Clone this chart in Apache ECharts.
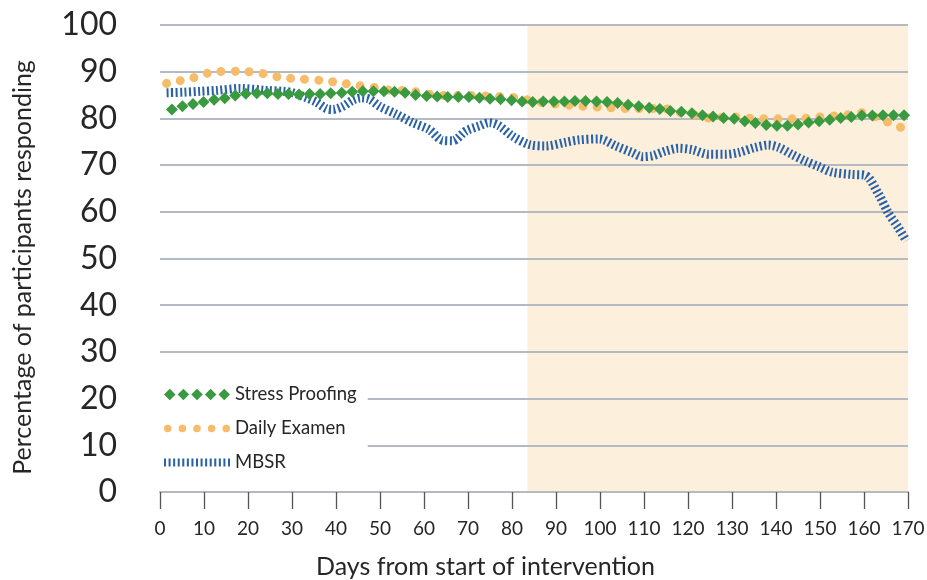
<!DOCTYPE html>
<html><head><meta charset="utf-8">
<script src="https://cdn.jsdelivr.net/npm/echarts@6/dist/echarts.min.js"></script>
<style>html,body{margin:0;padding:0;background:#fff}#c{width:927px;height:580px}</style>
</head><body><div id="c"></div>
<script>
// ---- data ----
const seriesNames = ['Stress Proofing', 'Daily Examen', 'MBSR'];

const stressDays = [2.7,5.1,7.5,9.9,12.3,14.7,17.1,19.5,22.0,24.4,26.8,29.2,31.6,34.0,36.4,38.8,41.3,43.7,46.1,48.5,50.9,53.3,55.7,58.1,60.6,63.0,65.4,67.8,70.2,72.6,75.0,77.4,79.9,82.3,84.7,87.1,89.5,91.9,94.3,96.7,99.2,101.6,104.0,106.4,108.8,111.2,113.6,116.0,118.5,120.9,123.3,125.7,128.1,130.5,132.9,135.3,137.8,140.2,142.6,145.0,147.4,149.8,152.2,154.7,157.1,159.5,161.9,164.3,166.7,169.1];
const stressValues = [81.9,82.6,83.1,83.5,84.0,84.3,84.9,85.3,85.4,85.4,
  85.2,85.2,85.1,85.2,85.2,85.4,85.5,85.7,85.8,85.8,
  85.8,85.7,85.5,85.0,84.8,84.7,84.6,84.6,84.6,84.4,
  84.2,84.1,83.9,83.6,83.5,83.6,83.6,83.6,83.7,83.7,
  83.6,83.5,83.3,82.9,82.6,82.3,82.0,81.6,81.4,81.1,
  80.7,80.4,80.1,79.9,79.4,79.0,78.6,78.4,78.4,78.7,
  79.1,79.4,79.7,80.1,80.3,80.6,80.6,80.7,80.7,80.7];

const examenDays = [1.5,4.1,7.0,9.2,13.0,18.1,23.4,27.4,32.4,37.0,41.0,44.7,48.8,52.5,56.7,60.5,64.2,69.2,74.1,80.9,86.8,93.4,99.8,107.3,114.5,117.9,121.7,125.5,129.3,133.0,136.8,140.6,144.4,147.8,151.2,154.2,157.6,160.2,163.3,166.9,169.6];
const examenValues = [87.5,88.0,88.5,89.3,90.0,90.1,89.6,88.8,88.4,88.1,87.6,87.1,86.6,86.0,85.9,85.3,84.9,84.9,84.8,84.4,83.4,82.8,82.4,82.1,82.1,81.3,80.7,80.0,80.4,80.1,79.9,79.9,79.9,80.1,80.4,80.6,80.9,81.3,79.9,78.7,77.5];

const mbsrDays = [1.5,5.3,9.1,12.9,18.1,24.2,28.0,30.2,33.3,35.5,37.8,39.3,41.6,43.8,45.7,47.6,49.9,53.7,57.4,61.2,64.2,66.5,69.5,72.6,74.8,77.1,80.1,83.9,87.7,92.2,95.2,99.8,103.6,107.3,109.6,111.9,114.9,117.9,120.9,124.7,128.5,131.5,135.3,138.3,140.6,143.6,146.6,149.7,152.7,157.2,160.3,163.3,165.5,167.8,169.6];
const mbsrValues = [85.5,85.6,85.8,86.0,86.4,86.0,85.8,85.5,84.4,83.5,82.1,81.9,82.6,83.9,84.4,84.1,82.6,80.9,79.1,77.6,75.3,75.2,77.3,78.4,79.1,78.4,76.2,74.4,74.1,74.9,75.4,75.6,74.1,72.7,71.8,72.0,73.0,73.6,73.3,72.3,72.3,72.7,73.8,74.3,73.8,72.3,70.9,69.7,68.5,68.0,67.8,63.8,59.8,56.6,53.8];

const shadeStart = 83.5, shadeEnd = 170;   // shaded period (days)
const xMin = 0, xMax = 170, xStep = 10;
const yMin = 0, yMax = 100, yStep = 10;

// ---- styles ----
const FONT = 'Lato';
const TXT = '#262626';
const GRIDC = '#b3bac2';
const GREEN = '#3a9a3f', ORANGE = '#f7bc69', BLUE = '#2a62a8';

// legend icons
function diamondsPath() {
  let p = '';
  for (let i = 0; i < 5; i++) {
    const cx = 5.5 + i * 13;
    p += `M${cx},0 L${cx + 5.5},5.5 L${cx},11 L${cx - 5.5},5.5 Z `;
  }
  return 'path://' + p;
}
function dotsPath() {
  let p = '';
  for (let i = 0; i < 5; i++) {
    const cx = 4 + i * 15.5;
    p += `M${cx - 4},4 a4,4 0 1,0 8,0 a4,4 0 1,0 -8,0 Z `;
  }
  return 'path://' + p;
}
function stripesPath() {
  let p = '';
  for (let i = 0; i < 15; i++) {
    const x = i * 4.5;
    p += `M${x},0 L${x + 2},0 L${x + 2},8 L${x},8 Z `;
  }
  return 'path://' + p;
}

const zip = (a, b) => a.map((v, i) => [v, b[i]]);

const chart = echarts.init(document.getElementById('c'), null, {renderer: 'canvas'});
chart.setOption({
  animation: false,
  backgroundColor: '#fff',
  textStyle: {fontFamily: FONT},
  grid: {left: 160, right: 19, top: 25, bottom: 88, containLabel: false, outerBoundsMode: 'none'},
  legend: {
    orient: 'vertical', left: 158, top: 371,
    padding: [14, 11, 10, 6],
    backgroundColor: '#fff',
    itemWidth: 66, itemHeight: 14, itemGap: 15,
    itemStyle: {borderWidth: 0},
    textStyle: {fontFamily: FONT, fontSize: 18.5, color: TXT, lineHeight: 19},
    data: [
      {name: seriesNames[0], icon: diamondsPath()},
      {name: seriesNames[1], icon: dotsPath()},
      {name: seriesNames[2], icon: stripesPath()}
    ]
  },
  xAxis: {
    type: 'value', min: xMin, max: xMax, interval: xStep, z: 1.5,
    name: 'Days from start of intervention', nameLocation: 'middle', nameGap: 62,
    nameTextStyle: {fontFamily: FONT, fontSize: 25, color: TXT, padding: [0, 97, 0, 0]},
    axisLine: {show: true, lineStyle: {color: GRIDC, width: 2}},
    axisTick: {show: true, length: 17, lineStyle: {color: '#555', width: 1.3}},
    axisLabel: {fontFamily: FONT, fontSize: 19, color: TXT, margin: 27},
    splitLine: {show: false}
  },
  yAxis: {
    type: 'value', min: yMin, max: yMax, interval: yStep, z: 1.5,
    name: 'Percentage of participants responding', nameLocation: 'middle', nameGap: 125,
    nameRotate: 90,
    nameTextStyle: {fontFamily: FONT, fontSize: 25, color: TXT, padding: [0, 18, 0, 0]},
    axisLine: {show: false}, axisTick: {show: false},
    axisLabel: {fontFamily: FONT, fontSize: 32, color: TXT, margin: 43},
    splitLine: {show: true, lineStyle: {color: GRIDC, width: 2}}
  },
  series: [
    {
      name: seriesNames[1], type: 'line', data: zip(examenDays, examenValues),
      smooth: 0.3, symbol: 'none', color: ORANGE, z: 2,
      lineStyle: {width: 9, color: ORANGE, type: [0.01, 14], cap: 'round'},
      markArea: {
        silent: true,
        itemStyle: {color: '#fcefdc'},
        data: [[{xAxis: shadeStart}, {xAxis: shadeEnd}]]
      }
    },
    {
      name: seriesNames[2], type: 'line', data: zip(mbsrDays, mbsrValues),
      smooth: 0.3, symbol: 'none', color: BLUE, z: 2,
      lineStyle: {width: 9, color: BLUE, type: [2, 2.5], cap: 'butt'}
    },
    {
      name: seriesNames[0], type: 'line', data: zip(stressDays, stressValues),
      symbol: 'diamond', symbolSize: 12, showSymbol: true, showAllSymbol: true,
      color: GREEN, z: 3,
      itemStyle: {color: GREEN, borderWidth: 0},
      lineStyle: {width: 0, opacity: 0}
    }
  ]
});
</script>
</body></html>
